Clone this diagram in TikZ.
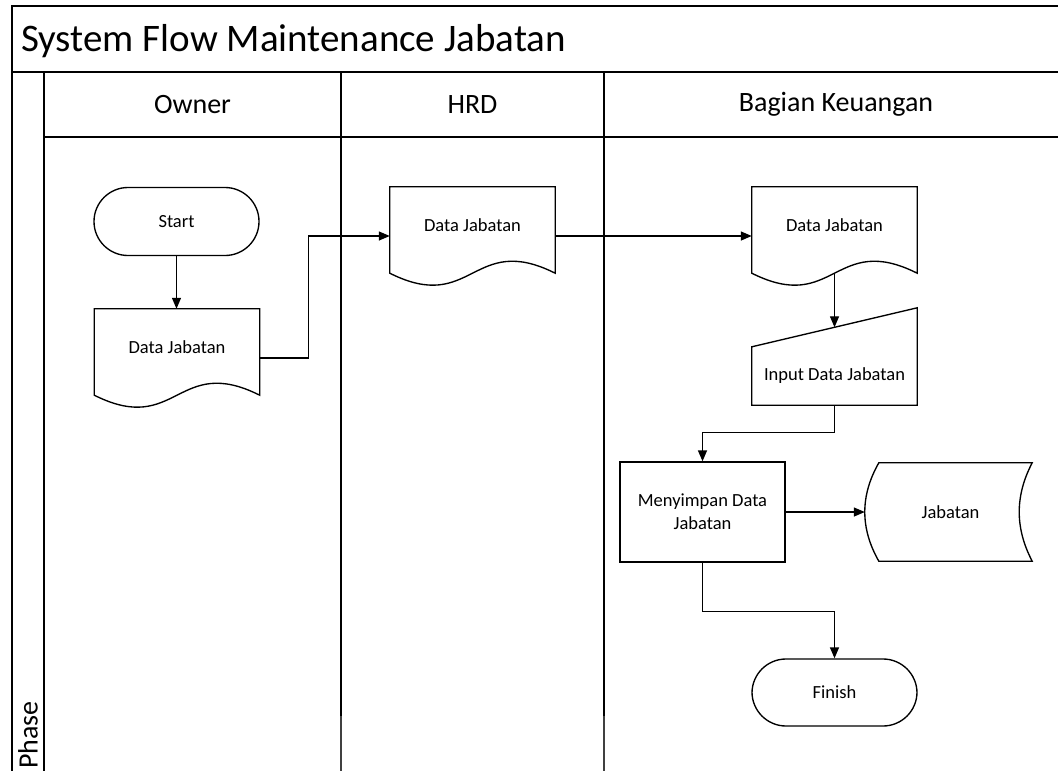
\documentclass[tikz,border=0pt]{standalone}
\usepackage{fontspec}
\setmainfont{Carlito}
\usetikzlibrary{arrows.meta,calc}

% lift the label of a document shape above its wavy base
\newcommand\docraise[1]{\raisebox{11pt}[\height][\depth]{#1}}
% outline of a document shape drawn round a named node
\newcommand\docoutline[1]{%
  \draw[shp] (#1.north west) -- (#1.north east) -- ($(#1.south east)+(0,-12)$)
    .. controls ($(#1.south)+(0,-53.5)$) and ($(#1.south)+(0,29.5)$) ..
    ($(#1.south west)+(0,-12)$) -- cycle;}

\begin{document}
\begin{tikzpicture}[x=1pt,y=-1pt,
  frame/.style={line width=1.7pt},
  shp/.style={draw, line width=1.35pt},
  arr/.style={line width=1.35pt, -{Triangle[length=11pt,width=9pt]}},
  lbl/.style={font=\fontsize{18.5}{23}\selectfont, inner sep=0pt, align=center},
  box/.style={lbl, minimum width=165pt},
  hdr/.style={font=\fontsize{28}{32}\selectfont, inner sep=0pt},
  term/.style={shp, box, minimum height=68pt, rounded corners=34pt},
]
\useasboundingbox (0,0) rectangle (1058,771);

% swimlane frame
\draw[frame] (1058,6) -- (12,6) -- (12,771);
\draw[frame] (12,72) -- (1058,72);
\draw[frame] (44,137) -- (1058,137);
\draw[frame] (44,72) -- (44,771);
\draw[frame] (341,72) -- (341,716);
\draw[frame] (604,72) -- (604,716);
\draw[frame, black!75] (341,716) -- (341,771);
\draw[frame, black!75] (604,716) -- (604,771);

\node[font=\fontsize{39}{44}\selectfont, anchor=west, inner sep=0pt] (title) at (21,41) {System Flow Maintenance Jabatan};
\node[hdr] (hown) at (192.5,104.5) {Owner};
\node[hdr] (hhrd) at (472.5,104.5) {HRD};
\node[hdr] (hkeu) at (836,104.5) {Bagian Keuangan};
\node[hdr, rotate=90, anchor=west] (phase) at (28,769) {Phase};

% Owner
\node[term] (st) at (176.5,221.5) {Start};
\node[box, minimum height=98pt] (d1) at (177,358) {\docraise{Data Jabatan}};
\docoutline{d1}

% HRD
\node[box, minimum height=98pt] (d2) at (472.5,236) {\docraise{Data Jabatan}};
\docoutline{d2}

% Bagian Keuangan
\node[box, minimum height=98pt] (d3) at (834.5,236) {\docraise{Data Jabatan}};
\docoutline{d3}
\coordinate (d3bot) at ($(d3.south)+(0,-12)$);

\node[box, minimum height=58pt] (mi) at (834.5,376) {Input Data Jabatan};
\draw[shp] (mi.south west) -- (mi.north west) -- ($(mi.north east)+(0,-39)$) -- (mi.south east) -- cycle;
\coordinate (mitop) at ($(mi.north)+(0,-19.5)$);

\node[shp, box, minimum height=100pt] (pr) at (702.5,512) {Menyimpan Data\\Jabatan};

\node[lbl, minimum width=153pt, minimum height=98pt] (sd) at (955.5,512) {\hspace*{-10pt}Jabatan};
\draw[shp] (sd.north west) -- (sd.north east)
  .. controls ($(sd.north east)+(-17.3,33)$) and ($(sd.south east)+(-17.3,-33)$) .. (sd.south east)
  -- (sd.south west)
  .. controls ($(sd.south west)+(-18.7,-33)$) and ($(sd.north west)+(-18.7,33)$) .. (sd.north west) -- cycle;
\coordinate (sdleft) at ($(sd.west)+(-14,0)$);

\node[term, minimum height=67pt] (fin) at (834.5,692.5) {Finish};

% flow
\draw[arr] (st.south) -- (st.south |- d1.north);
\draw[arr] (d1.east) -- ++(49,0) |- (d2.west);
\draw[arr] (d2.east) -- (d3.west);
\draw[arr] (d3bot) -- (mitop);
\draw[arr] (mi.south) -- ++(0,27) -| (pr.north);
\draw[arr] (pr.east) -- (sdleft);
\draw[arr] (pr.south) -- ++(0,49) -| (fin.north);
\end{tikzpicture}
\end{document}
